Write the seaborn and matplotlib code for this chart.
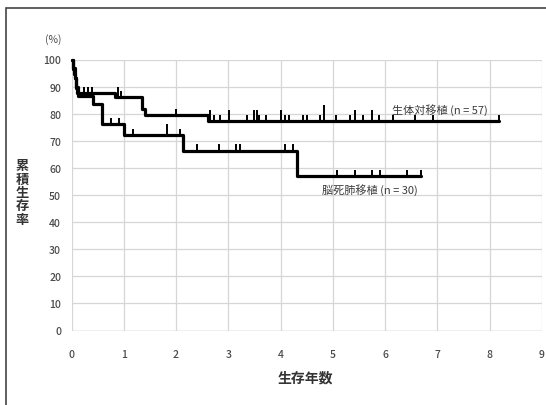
import numpy as np
import pandas as pd
import matplotlib
matplotlib.use("Agg")
import matplotlib.pyplot as plt
import seaborn as sns
from matplotlib.patches import Rectangle

# 生体対移植 (n = 57): 死亡ステップ
living_t = [0, 0.02, 0.035, 0.05, 0.065, 0.08, 0.095, 0.11, 0.83, 1.34, 1.41, 2.62]
living_v = [100, 98.2, 96.5, 94.7, 93.0, 91.2, 89.5, 87.7, 86.0, 81.8, 79.4, 77.3]
living_censor = [0.24, 0.32, 0.40, 0.88, 0.94, 2.0, 2.65, 2.73, 2.85, 3.01, 3.35,
                 3.50, 3.55, 3.59, 3.72, 4.0, 4.08, 4.17, 4.42, 4.50, 4.75, 4.83,
                 5.05, 5.32, 5.42, 5.58, 5.74, 5.88, 6.15, 6.58, 6.91, 8.17]
living_tall = [0.88, 2.65, 3.01, 3.50, 3.55, 4.0, 5.42, 5.74]
living_tallest = [4.83]

# 脳死肺移植 (n = 30)
brain_t = [0, 0.03, 0.06, 0.09, 0.12, 0.41, 0.59, 1.0, 2.14, 4.32]
brain_v = [100, 96.7, 93.3, 90.0, 86.7, 83.4, 76.2, 72.2, 66.4, 57.1]
brain_censor = [0.75, 0.90, 1.17, 1.83, 2.07, 2.40, 2.82, 3.15, 3.23, 4.08, 4.24,
                5.07, 5.42, 5.75, 5.91, 6.42, 6.68]
brain_tall = [1.83]

x_ticks = list(range(0, 10))
y_ticks = list(range(0, 101, 10))

sns.set_style("white")
plt.rcParams["font.family"] = ["Noto Sans CJK JP", "DejaVu Sans"]

# データフレーム作成(最後の打ち切り時点まで線を延ばす)
rows = []
for name, t, v, c in [("living", living_t, living_v, living_censor),
                      ("brain", brain_t, brain_v, brain_censor)]:
    for ti, vi in zip(t, v):
        rows.append({"year": ti, "rate": vi, "group": name})
    rows.append({"year": max(c), "rate": v[-1], "group": name})
df = pd.DataFrame(rows)

fig = plt.figure(figsize=(5.46, 4.06), dpi=100)
ax = fig.add_axes([71.5 / 546, 1 - 331.5 / 406, (542 - 71.5) / 546, (331.5 - 60.5) / 406])

sns.lineplot(data=df, x="year", y="rate", hue="group", palette=["black", "black"],
             estimator=None, sort=False, drawstyle="steps-post", linewidth=2.3,
             legend=False, ax=ax, clip_on=False)


def step_value(times, vals, x):
    i = np.searchsorted(times, x, side="right") - 1
    return vals[i]


# 打ち切りの目印
for t, v, c, tall, tallest in [(living_t, living_v, living_censor, living_tall, living_tallest),
                               (brain_t, brain_v, brain_censor, brain_tall, [])]:
    for ci in c:
        base = step_value(t, v, ci)
        h = 2.3
        if ci in tall:
            h = 4.0
        if ci in tallest:
            h = 5.8
        ax.vlines(ci, base, base + h, colors="black", linewidth=1.4, clip_on=False)

ax.set_xlim(0, 9)
ax.set_ylim(0, 100)
ax.set_xticks(x_ticks)
ax.set_yticks(y_ticks)
ax.grid(True, color="#d6d6d6", linewidth=0.9)
ax.set_axisbelow(True)
for s in ax.spines.values():
    s.set_visible(False)
ax.axhline(0, color="#c4c4c4", linewidth=1.0, zorder=0)
ax.tick_params(axis="x", length=2.5, pad=11, color="#c4c4c4", labelsize=7.5, labelcolor="#4a4a4a")
ax.tick_params(axis="y", length=2.5, pad=5, color="#c4c4c4", labelsize=7.5, labelcolor="#4a4a4a")
for lab in ax.get_xticklabels() + ax.get_yticklabels():
    lab.set_fontweight("medium")
ax.set_xlabel("")
ax.set_ylabel("")

ax.text(6.14, 81.8, "生体対移植 (n = 57)", fontsize=8, va="center", color="#3a3a3a")
ax.text(4.80, 52.2, "脳死肺移植 (n = 30)", fontsize=8, va="center", color="#3a3a3a")

fig.text(53 / 546, 1 - 40 / 406, "(%)", fontsize=7.5, ha="center", va="center", color="#4a4a4a")
fig.text(305 / 546, 1 - 379 / 406, "生存年数", fontsize=10, fontweight="bold",
         ha="center", va="center", color="#333333")
fig.text(22 / 546, 1 - 193 / 406, "累\n積\n生\n存\n率", fontsize=9.5, fontweight="bold",
         ha="center", va="center", linespacing=0.95, color="#333333")

# 外枠
fig.patches.append(Rectangle((6 / 546, -0.1), 1.2, 1 - 9 / 406 + 0.1, transform=fig.transFigure,
                             fill=False, edgecolor="#444444", linewidth=1.2))

fig.savefig("out.png", dpi=100)
